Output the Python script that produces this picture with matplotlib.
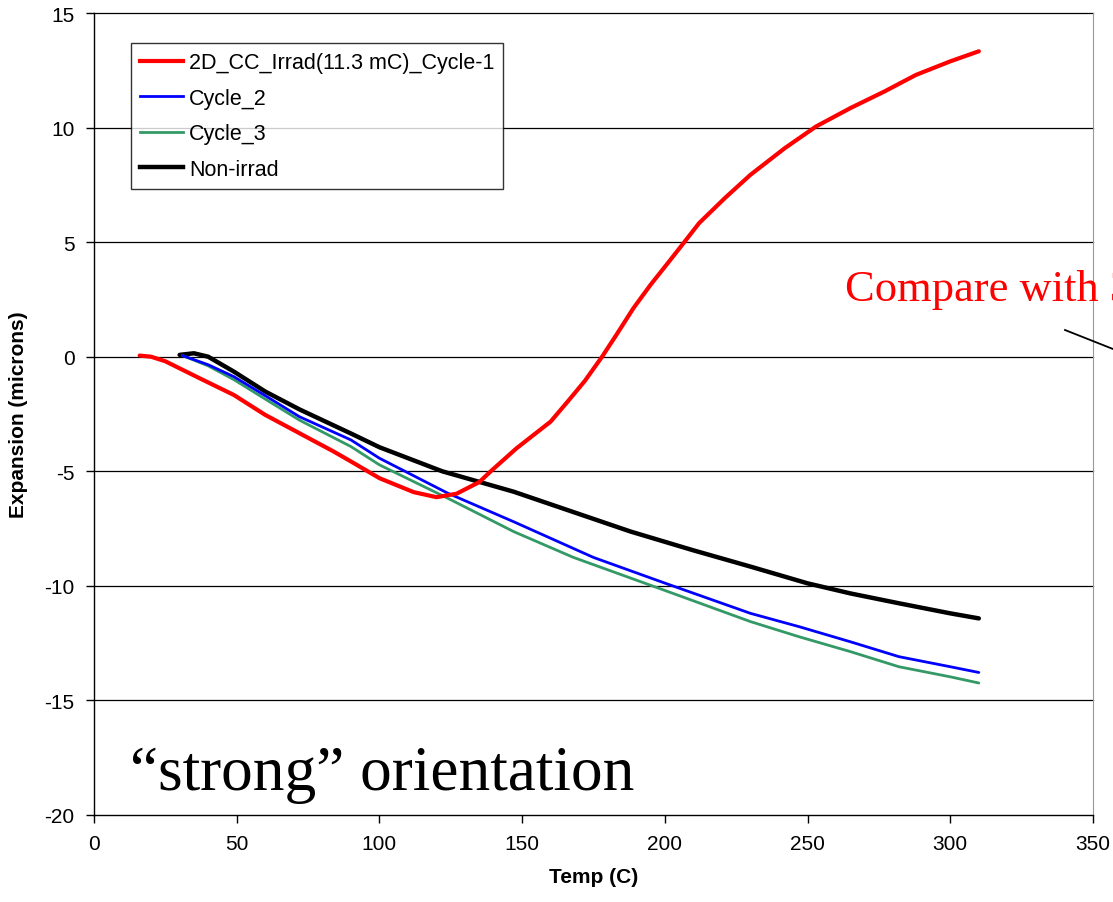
import matplotlib
matplotlib.use('Agg')
import matplotlib.pyplot as plt
from matplotlib.lines import Line2D

# values
cycle1_temp = [16, 20, 25, 37, 49, 60, 72, 84, 90, 100, 112, 120, 127, 135, 139, 148, 160,
               166, 172, 178, 183, 189, 195, 201, 207, 212, 221, 230, 242, 253, 265, 277,
               288, 300, 310]
cycle1_exp = [0.05, 0.0, -0.2, -0.94, -1.67, -2.54, -3.34, -4.14, -4.57, -5.3, -5.91, -6.13,
              -5.98, -5.47, -5.0, -4.0, -2.83, -1.95, -1.05, 0.0, 0.95, 2.12, 3.14, 4.08,
              5.03, 5.83, 6.92, 7.94, 9.1, 10.05, 10.85, 11.58, 12.3, 12.89, 13.33]

cycle2_temp = [31, 40, 49, 60, 72, 90, 100, 124, 147, 175, 200, 230, 247, 265, 282, 300, 310]
cycle2_exp = [0.05, -0.35, -0.87, -1.7, -2.62, -3.63, -4.43, -5.96, -7.2, -8.76, -9.88,
              -11.2, -11.78, -12.44, -13.09, -13.53, -13.78]

cycle3_temp = [31, 40, 49, 60, 72, 90, 100, 124, 147, 168, 200, 230, 247, 265, 282, 300, 310]
cycle3_exp = [0.05, -0.4, -1.0, -1.85, -2.77, -3.92, -4.72, -6.18, -7.63, -8.76, -10.2,
              -11.56, -12.22, -12.87, -13.53, -13.97, -14.24]

nonirr_temp = [30, 35, 40, 49, 60, 72, 84, 90, 100, 122, 147, 188, 210, 230, 250, 265, 282,
               300, 310]
nonirr_exp = [0.08, 0.15, 0.0, -0.65, -1.52, -2.3, -3.0, -3.35, -3.95, -5.0, -5.89, -7.63,
              -8.45, -9.16, -9.89, -10.33, -10.76, -11.2, -11.42]

series_labels = ['2D_CC_Irrad(11.3 mC)_Cycle-1', 'Cycle_2', 'Cycle_3', 'Non-irrad']
series_colors = ['#ff0000', '#0000ff', '#339966', '#000000']
series_widths = [3.0, 2.0, 2.0, 3.2]

xticks = [0, 50, 100, 150, 200, 250, 300, 350]
yticks = [-20, -15, -10, -5, 0, 5, 10, 15]

plt.rcParams['font.family'] = ['Liberation Sans', 'DejaVu Sans']
plt.rcParams['axes.unicode_minus'] = False

fig = plt.figure(figsize=(11.13, 9.03), dpi=100)
ax = fig.add_axes([94 / 1113, 1 - 816 / 903, 999 / 1113, 802 / 903])

for ytick in yticks[1:]:
    ax.axhline(ytick, color='#000000', lw=0.9, zorder=1, clip_on=False)

data = [(cycle1_temp, cycle1_exp), (cycle2_temp, cycle2_exp),
        (cycle3_temp, cycle3_exp), (nonirr_temp, nonirr_exp)]
# draw in reverse so the red curve ends up on top
for (t, e), c, w in reversed(list(zip(data, series_colors, series_widths))):
    ax.plot(t, e, color=c, lw=w, solid_capstyle='round', solid_joinstyle='round', zorder=3)

ax.set_xlim(0, 350)
ax.set_ylim(-20, 15)
ax.set_xticks(xticks)
ax.set_yticks(yticks)
ax.tick_params(direction='out', length=6, width=1, labelsize=15, pad=8)
ax.spines['top'].set_visible(False)
ax.spines['right'].set_color('#999999')
ax.spines['left'].set_linewidth(1)
ax.spines['bottom'].set_linewidth(1)
ax.set_xlabel('Temp (C)', fontsize=15, fontweight='bold', labelpad=10)
ax.set_ylabel('Expansion (microns)', fontsize=15, fontweight='bold', labelpad=12)

handles = [Line2D([0], [0], color=c, lw=w) for c, w in zip(series_colors, series_widths)]
leg = ax.legend(handles, series_labels, loc='upper left', bbox_to_anchor=(0.037, 0.962),
                fontsize=15.5, frameon=True, fancybox=False, edgecolor='#000000',
                handlelength=2.0, handletextpad=0.3, borderpad=0.4, labelspacing=0.68,
                borderaxespad=0)
leg.get_frame().set_linewidth(1)

fig.text(130 / 1113, 1 - 790 / 903, '\u201cstrong\u201d orientation',
         family='Liberation Serif', fontsize=45.5, ha='left', va='baseline')
fig.text(845 / 1113, 1 - 301 / 903, 'Compare with 3D', color='#ff0000',
         family='Liberation Serif', fontsize=32, ha='left', va='baseline')
fig.add_artist(Line2D([1065 / 1113, 1.0], [1 - 331 / 903, 1 - 350 / 903],
                      color='#000000', lw=1.3))

fig.savefig('out.png', dpi=100)
